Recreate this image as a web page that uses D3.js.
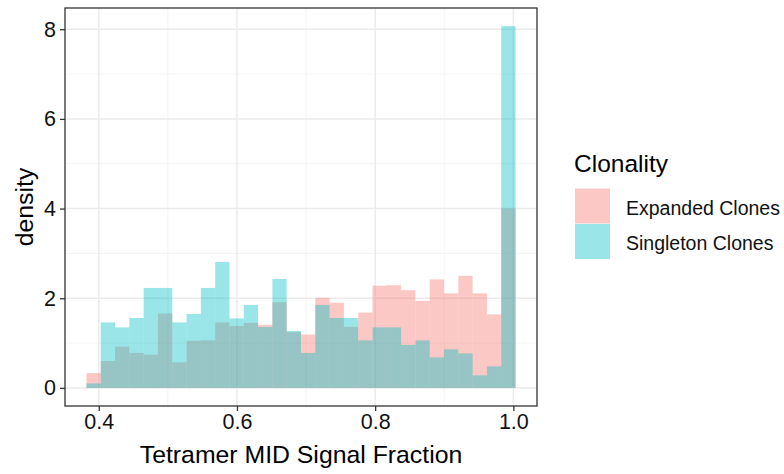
<!DOCTYPE html>
<html>
<head>
<meta charset="utf-8">
<script src="https://cdn.jsdelivr.net/npm/d3@7"></script>
<style>
  body { margin: 0; background: #fff; }
  text { font-family: "Liberation Sans", Arial, sans-serif; }
</style>
</head>
<body>
<div id="histChart"></div>
<script>
// histogram bins (30 bins, ggplot default)
let binStart = 0.3822,
  binWidth = 0.0207;
let groups = ["Expanded Clones", "Singleton Clones"];
let groupColors = { "Expanded Clones": "#F8766D", "Singleton Clones": "#00BFC4" };
let expandedDensity = [0.33, 0.6, 0.92, 0.78, 0.74, 1.66, 0.57, 1.05, 1.06, 1.46,
  1.38, 1.45, 1.41, 1.91, 1.24, 1.19, 2.01, 1.9, 1.36, 1.68,
  2.28, 2.29, 2.18, 1.94, 2.42, 2.11, 2.5, 2.11, 1.64, 4.0];
let singletonDensity = [0.1, 1.46, 1.35, 1.56, 2.23, 2.23, 1.46, 1.65, 2.23, 2.81,
  1.55, 1.85, 1.36, 2.43, 1.27, 0.78, 1.85, 1.56, 1.56, 1.06,
  1.35, 1.35, 0.96, 1.06, 0.68, 0.86, 0.77, 0.28, 0.48, 8.07];
let xTicks = [0.4, 0.6, 0.8, 1.0],
  xMinor = [0.5, 0.7, 0.9],
  yTicks = [0, 2, 4, 6, 8],
  yMinor = [1, 3, 5, 7];

function drawChart() {
  var margin = { top: 8, left: 65 },
    width = 472,
    height = 398;

  let series = [
    { key: groups[0], values: expandedDensity },
    { key: groups[1], values: singletonDensity }
  ];

  let svg = d3
    .select("#histChart")
    .append("svg")
    .attr("width", 784)
    .attr("height", 474)
    .append("g")
    .attr("transform", "translate(" + margin.left + "," + margin.top + ")");

  //////////
  // SCALES //
  //////////
  // ggplot style 5% expansion around data range
  let lo = binStart,
    hi = binStart + binWidth * expandedDensity.length;
  let xPad = (hi - lo) * 0.05;
  var x = d3.scaleLinear().domain([lo - xPad, hi + xPad]).range([0, width]);
  let yMax = d3.max(singletonDensity.concat(expandedDensity));
  var y = d3
    .scaleLinear()
    .domain([-yMax * 0.05, yMax * 1.05])
    .range([height, 0]);

  //////////
  // GRID //
  //////////
  svg.selectAll("minorX").data(xMinor).enter().append("line")
    .attr("x1", d => x(d)).attr("x2", d => x(d))
    .attr("y1", 0).attr("y2", height)
    .style("stroke", "#f0f0f0").style("stroke-width", 0.8);
  svg.selectAll("minorY").data(yMinor).enter().append("line")
    .attr("y1", d => y(d)).attr("y2", d => y(d))
    .attr("x1", 0).attr("x2", width)
    .style("stroke", "#f0f0f0").style("stroke-width", 0.8);
  svg.selectAll("majorX").data(xTicks).enter().append("line")
    .attr("x1", d => x(d)).attr("x2", d => x(d))
    .attr("y1", 0).attr("y2", height)
    .style("stroke", "#ebebeb").style("stroke-width", 1.5);
  svg.selectAll("majorY").data(yTicks).enter().append("line")
    .attr("y1", d => y(d)).attr("y2", d => y(d))
    .attr("x1", 0).attr("x2", width)
    .style("stroke", "#ebebeb").style("stroke-width", 1.5);

  //////////
  // BARS //
  //////////
  series.forEach(s => {
    svg
      .append("g")
      .selectAll("rect")
      .data(s.values)
      .enter()
      .append("rect")
      .attr("x", (d, i) => x(binStart + i * binWidth))
      .attr("width", (d, i) => x(binStart + (i + 1) * binWidth) - x(binStart + i * binWidth))
      .attr("y", d => y(d))
      .attr("height", d => y(0) - y(d))
      .style("fill", groupColors[s.key])
      .style("fill-opacity", 0.4);
  });

  // panel border
  svg.append("rect")
    .attr("width", width).attr("height", height)
    .style("fill", "none").style("stroke", "#333333").style("stroke-width", 1.3);

  //////////
  // AXIS //
  //////////
  let xAxis = svg
    .append("g")
    .attr("transform", "translate(0," + height + ")")
    .call(d3.axisBottom(x).tickValues(xTicks).tickFormat(d3.format(".1f")).tickSizeOuter(0).tickSize(5).tickPadding(3));
  let yAxis = svg
    .append("g")
    .call(d3.axisLeft(y).tickValues(yTicks).tickSizeOuter(0).tickSize(5).tickPadding(4));
  [xAxis, yAxis].forEach(a => {
    a.select(".domain").remove();
    a.selectAll("line").style("stroke", "#333333").style("stroke-width", 1.3);
    a.selectAll("text")
      .style("font-size", "21.5px")
      .style("font-family", '"Liberation Sans", Arial, sans-serif')
      .style("fill", "#111");
  });

  // axis titles
  svg.append("text")
    .attr("text-anchor", "middle")
    .attr("x", width / 2)
    .attr("y", height + 56.5)
    .style("font-size", "24.8px")
    .style("fill", "#000")
    .text("Tetramer MID Signal Fraction");
  svg.append("text")
    .attr("text-anchor", "middle")
    .attr("transform", "translate(" + (-margin.left + 33) + "," + height / 2 + ") rotate(-90)")
    .style("font-size", "24.8px")
    .style("fill", "#000")
    .text("density");

  //////////
  // LEGEND //
  //////////
  let legend = d3.select("#histChart svg").append("g");
  legend.append("text")
    .attr("x", 574)
    .attr("y", 172)
    .style("font-size", "24.5px")
    .text("Clonality");
  var size = 35;
  legend.selectAll("myrect").data(groups).enter().append("rect")
    .attr("x", 575)
    .attr("y", (d, i) => 188.5 + i * (size + 0.5))
    .attr("width", size)
    .attr("height", size)
    .style("fill", d => groupColors[d])
    .style("fill-opacity", 0.4);
  legend.selectAll("mylabels").data(groups).enter().append("text")
    .attr("x", 626)
    .attr("y", (d, i) => 215 + i * 34.5)
    .style("font-size", "19.5px")
    .style("fill", "#111")
    .text(d => d);
}
drawChart();
</script>
</body>
</html>
